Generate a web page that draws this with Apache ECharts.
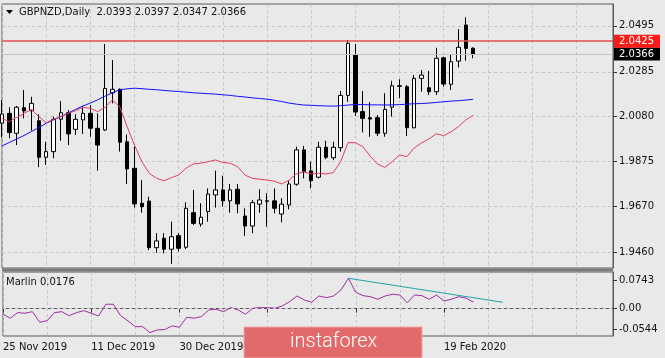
<!DOCTYPE html>
<html><head><meta charset="utf-8">
<script src="https://cdn.jsdelivr.net/npm/echarts@6/dist/echarts.min.js"></script>
<style>html,body{margin:0;padding:0;background:#e9e9e9}#c{width:665px;height:358px}</style>
</head><body><div id="c"></div>
<script>
const symbol = 'GBPNZD', period = 'Daily';
const dates = ['2019-11-25','2019-11-26','2019-11-27','2019-11-28','2019-11-29',
'2019-12-02','2019-12-03','2019-12-04','2019-12-05','2019-12-06',
'2019-12-09','2019-12-10','2019-12-11','2019-12-12','2019-12-13',
'2019-12-16','2019-12-17','2019-12-18','2019-12-19','2019-12-20',
'2019-12-23','2019-12-24','2019-12-26','2019-12-27',
'2019-12-30','2019-12-31','2020-01-02','2020-01-03',
'2020-01-06','2020-01-07','2020-01-08','2020-01-09','2020-01-10',
'2020-01-13','2020-01-14','2020-01-15','2020-01-16','2020-01-17',
'2020-01-20','2020-01-21','2020-01-22','2020-01-23','2020-01-24',
'2020-01-27','2020-01-28','2020-01-29','2020-01-30','2020-01-31',
'2020-02-03','2020-02-04','2020-02-05','2020-02-06','2020-02-07',
'2020-02-10','2020-02-11','2020-02-12','2020-02-13','2020-02-14',
'2020-02-17','2020-02-18','2020-02-19','2020-02-20','2020-02-21',
'2020-02-24','2020-02-25'];
const opens = [2.0050,2.0095,2.0004,2.0121,2.0107,2.0061,1.9894,1.9920,2.0068,2.0098,
2.0022,2.0065,2.0095,2.0027,2.0019,2.0189,2.0205,1.9965,1.9844,1.9684,
1.9694,1.9481,1.9524,1.9474,1.9536,1.9483,1.9641,1.9589,1.9646,1.9722,
1.9745,1.9695,1.9748,1.9626,1.9580,1.9680,1.9695,1.9695,1.9635,1.9676,
1.9771,1.9928,1.9832,1.9803,1.9940,1.9892,1.9938,2.0177,2.0362,2.0103,
2.0075,2.0075,2.0004,2.0123,2.0221,2.0217,2.0029,2.0255,2.0212,2.0194,
2.0349,2.0228,2.0334,2.0499,2.0393];
const highs = [2.0156,2.0123,2.0129,2.0202,2.0171,2.0091,1.9965,2.0080,2.0151,2.0110,
2.0092,2.0129,2.0133,2.0095,2.0412,2.0339,2.0209,1.9999,1.9943,1.9790,
1.9714,1.9547,1.9547,1.9600,1.9547,1.9688,1.9745,1.9684,1.9752,1.9833,
1.9810,1.9772,1.9772,1.9661,1.9699,1.9748,1.9730,1.9752,1.9707,1.9787,
1.9943,1.9946,1.9874,1.9965,1.9970,1.9965,2.0197,2.0430,2.0412,2.0197,
2.0146,2.0087,2.0187,2.0244,2.0251,2.0225,2.0270,2.0293,2.0289,2.0395,
2.0354,2.0365,2.0480,2.0534,2.0397];
const lows = [1.9986,1.9981,1.9950,2.0072,2.0016,1.9849,1.9859,1.9890,1.9970,1.9950,
1.9996,2.0001,1.9988,1.9833,2.0015,2.0141,1.9920,1.9772,1.9664,1.9641,
1.9470,1.9458,1.9455,1.9407,1.9463,1.9474,1.9585,1.9577,1.9600,1.9664,
1.9668,1.9641,1.9638,1.9535,1.9547,1.9641,1.9577,1.9638,1.9597,1.9656,
1.9764,1.9798,1.9752,1.9798,1.9885,1.9882,1.9920,2.0148,2.0083,2.0008,
1.9988,1.9991,1.9988,2.0080,2.0164,1.9991,2.0027,2.0194,2.0179,2.0179,
2.0217,2.0202,2.0305,2.0336,2.0347];
const closes = [2.0092,2.0007,2.0123,2.0106,2.0141,1.9894,1.9920,2.0068,2.0098,2.0001,
2.0068,2.0095,2.0027,1.9950,2.0209,2.0205,1.9963,1.9841,1.9681,1.9668,
1.9481,1.9512,1.9474,1.9531,1.9478,1.9661,1.9592,1.9620,1.9726,1.9745,
1.9695,1.9745,1.9681,1.9580,1.9687,1.9699,1.9693,1.9661,1.9680,1.9772,
1.9928,1.9828,1.9787,1.9940,1.9894,1.9940,2.0177,2.0415,2.0101,2.0072,
2.0069,2.0004,2.0113,2.0221,2.0219,2.0029,2.0255,2.0270,2.0194,2.0347,
2.0229,2.0331,2.0397,2.0392,2.0366];
const maBlue = [1.9946,1.9962,1.9978,1.9994,2.0012,2.0030,2.0050,2.0065,2.0081,2.0097,
2.0113,2.0129,2.0142,2.0157,2.0174,2.0189,2.0203,2.0207,2.0210,2.0208,
2.0205,2.0203,2.0200,2.0197,2.0195,2.0192,2.0189,2.0187,2.0185,2.0183,
2.0180,2.0177,2.0173,2.0170,2.0166,2.0163,2.0160,2.0155,2.0149,2.0142,
2.0137,2.0133,2.0132,2.0130,2.0129,2.0128,2.0130,2.0133,2.0136,2.0135,
2.0134,2.0134,2.0133,2.0134,2.0135,2.0137,2.0139,2.0140,2.0142,2.0145,
2.0148,2.0151,2.0153,2.0156,2.0159];
const maRed = [2.0072,2.0057,2.0077,2.0095,2.0114,2.0080,2.0052,2.0068,2.0080,2.0095,
2.0107,2.0123,2.0118,2.0103,2.0123,2.0156,2.0125,2.0034,1.9950,1.9874,
1.9821,1.9798,1.9787,1.9801,1.9813,1.9844,1.9864,1.9867,1.9874,1.9882,
1.9870,1.9867,1.9851,1.9813,1.9798,1.9794,1.9790,1.9785,1.9772,1.9790,
1.9818,1.9828,1.9818,1.9821,1.9818,1.9824,1.9874,1.9961,1.9961,1.9943,
1.9900,1.9864,1.9848,1.9874,1.9905,1.9897,1.9937,1.9960,1.9978,2.0002,
1.9993,2.0011,2.0034,2.0065,2.0086];
const marlin = [-0.0149,-0.0255,-0.0106,-0.0122,-0.0080,-0.0361,-0.0318,-0.0106,-0.0080,-0.0186,
-0.0106,-0.0053,-0.0122,-0.0194,0.0117,0.0117,-0.0186,-0.0326,-0.0478,-0.0478,
-0.0637,-0.0565,-0.0557,-0.0459,-0.0494,-0.0228,-0.0255,-0.0212,-0.0034,-0.0016,
-0.0080,0.0027,-0.0034,-0.0149,0.0011,0.0027,0.0027,0.0011,0.0072,0.0186,
0.0337,0.0231,0.0170,0.0337,0.0292,0.0337,0.0500,0.0807,0.0435,0.0345,
0.0318,0.0249,0.0337,0.0382,0.0363,0.0159,0.0363,0.0345,0.0249,0.0363,
0.0204,0.0249,0.0318,0.0280,0.0176];
const futureSlots = 19;
const priceTicks = [2.0495, 2.0285, 2.0080, 1.9875, 1.9670, 1.9460];
const marlinTicks = [0.0743, 0.00, -0.0544];
const marlinTickLabels = ['0.0743', '0.00', '-0.0544'];
const marlinGrid = [0.00];
const resistance = 2.0425;
const bid = 2.0366;
const trendLine = [[47, 0.0807], [68, 0.0170]];
const months = ['Jan','Feb','Mar','Apr','May','Jun','Jul','Aug','Sep','Oct','Nov','Dec'];

const cats = dates.concat(Array.from({length: futureSlots}, (_, k) => '+' + (k + 1)));
const ohlc = dates.map((d, i) => [opens[i], closes[i], lows[i], highs[i]]);
const n = dates.length;
const FONT = 'DejaVu Sans';
const fmtDate = v => { const p = v.split('-'); return (+p[2]) + ' ' + months[+p[1] - 1] + ' ' + p[0]; };
const showIdx = (idx) => idx % 12 === 0 && idx < n;

const chart = echarts.init(document.getElementById('c'), null, {renderer: 'canvas'});
chart.setOption({
  animation: false,
  backgroundColor: '#e9e9e9',
  textStyle: {fontFamily: FONT},
  title: [
    {text: symbol + ',' + period + '  ' + [opens[n-1], highs[n-1], lows[n-1], closes[n-1]].map(v => v.toFixed(4)).join(' '),
     left: 19, top: 7, padding: 0, textStyle: {fontSize: 10, fontWeight: 'normal', color: '#111', fontFamily: FONT}},
    {text: 'Marlin ' + marlin[n-1].toFixed(4), left: 6, top: 277, padding: 0,
     textStyle: {fontSize: 10, fontWeight: 'normal', color: '#111', fontFamily: FONT}}
  ],
  grid: [
    {left: 2, right: 52, top: 4, height: 264, show: true, borderColor: '#5a5a5a', borderWidth: 1, backgroundColor: 'transparent'},
    {left: 2, right: 52, top: 272, height: 64, show: true, borderColor: '#5a5a5a', borderWidth: 1, backgroundColor: 'transparent'}
  ],
  xAxis: [
    {type: 'category', gridIndex: 0, data: cats, boundaryGap: false,
     axisLine: {show: false}, axisTick: {show: false}, axisLabel: {show: false},
     splitLine: {show: true, interval: 5, lineStyle: {color: '#c6c6c6', type: [3, 3], width: 1}}},
    {type: 'category', gridIndex: 1, data: cats, boundaryGap: false,
     axisLine: {show: true, lineStyle: {color: '#5a5a5a'}},
     axisTick: {show: true, interval: showIdx, length: 4, lineStyle: {color: '#333'}},
     axisLabel: {show: true, interval: showIdx, formatter: fmtDate, align: 'left', margin: 6,
                 fontSize: 10, color: '#111', fontFamily: FONT},
     splitLine: {show: true, interval: 5, lineStyle: {color: '#c6c6c6', type: [3, 3], width: 1}}}
  ],
  yAxis: [
    {type: 'value', gridIndex: 0, position: 'right', min: 1.9388, max: 2.0595, scale: true,
     axisLine: {show: true, lineStyle: {color: '#5a5a5a'}},
     axisTick: {show: true, customValues: priceTicks, length: 4, lineStyle: {color: '#333'}},
     axisLabel: {show: true, customValues: priceTicks, formatter: v => v.toFixed(4), margin: 6,
                 fontSize: 10, color: '#111', fontFamily: FONT},
     splitLine: {show: true, lineStyle: {color: '#c6c6c6', type: [3, 3], width: 1}}},
    {type: 'value', gridIndex: 1, position: 'right', min: -0.0727, max: 0.0974,
     axisLine: {show: true, lineStyle: {color: '#5a5a5a'}},
     axisTick: {show: true, customValues: marlinTicks, length: 4, lineStyle: {color: '#333'}},
     axisLabel: {show: true, customValues: marlinTicks, margin: 6, fontSize: 10, color: '#111', fontFamily: FONT,
                 formatter: v => { const k = marlinTicks.findIndex(t => Math.abs(t - v) < 1e-6); return k >= 0 ? marlinTickLabels[k] : ''; }},
     splitLine: {show: false}}
  ],
  series: [
    {type: 'candlestick', xAxisIndex: 0, yAxisIndex: 0, data: ohlc, barWidth: 4, clip: true,
     itemStyle: {color: '#ffffff', color0: '#000000', borderColor: '#000000', borderColor0: '#000000', borderWidth: 1},
     markLine: {symbol: 'none', silent: true, animation: false, precision: 6,
       data: [
         {yAxis: bid, lineStyle: {color: '#c4c4c4', width: 1, type: 'solid'},
          label: {show: true, position: 'end', formatter: bid.toFixed(4), color: '#fff', backgroundColor: '#000',
                  padding: [2, 6, 1, 5], distance: 1, fontSize: 10, fontFamily: FONT}},
         {yAxis: resistance, lineStyle: {color: '#e05050', width: 1.5, type: 'solid'},
          label: {show: true, position: 'end', formatter: resistance.toFixed(4), color: '#fff', backgroundColor: '#ff1a1a',
                  padding: [2, 6, 1, 5], distance: 1, fontSize: 10, fontFamily: FONT}}
       ]}},
    {type: 'line', xAxisIndex: 0, yAxisIndex: 0, data: maBlue, symbol: 'none', lineStyle: {color: '#1010ff', width: 1}, z: 3},
    {type: 'line', xAxisIndex: 0, yAxisIndex: 0, data: maRed, symbol: 'none', lineStyle: {color: '#e3405e', width: 1}, z: 3},
    {type: 'line', xAxisIndex: 1, yAxisIndex: 1, data: marlin, symbol: 'none', lineStyle: {color: '#a02aa6', width: 1},
     markLine: {symbol: 'none', silent: true, label: {show: false}, precision: 6,
       data: marlinGrid.map(v => ({yAxis: v})), lineStyle: {color: '#c6c6c6', type: [3, 3], width: 1}}},
    {type: 'line', xAxisIndex: 1, yAxisIndex: 1, data: trendLine, symbol: 'none', lineStyle: {color: '#1fa3a3', width: 1}, z: 4}
  ],
  graphic: [
    {type: 'polygon', shape: {points: [[6, 10], [13, 10], [9.5, 14]]}, style: {fill: '#000'}},
    {type: 'rect', shape: {x: 2, y: 268.5, width: 611, height: 3}, style: {fill: '#7a7a7a'}},
    {type: 'rect', zlevel: 1, z: 100, shape: {x: 244, y: 327, width: 178, height: 31}, style: {fill: '#e36a6a', stroke: '#f2a5a5', lineWidth: 1}},
    {type: 'text', zlevel: 1, z: 101, x: 290, y: 342, style: {text: 'instaforex', fill: '#ffffff', font: '300 20px Roboto', verticalAlign: 'middle'}}
  ]
});
</script></body></html>
